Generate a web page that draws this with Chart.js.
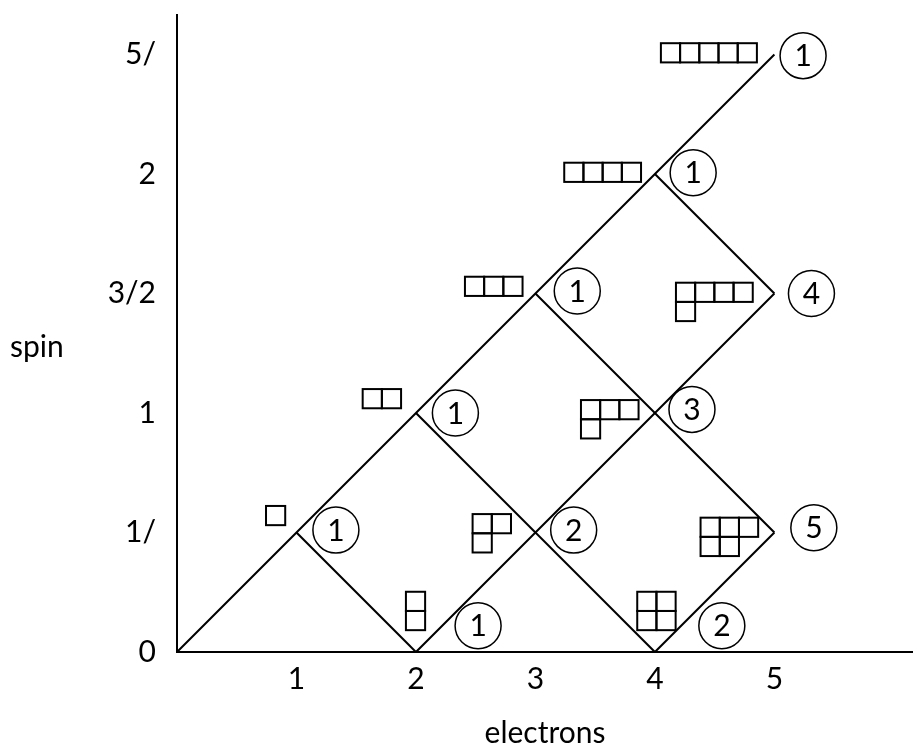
<!DOCTYPE html>
<html>
<head>
<meta charset="utf-8">
<script src="https://cdn.jsdelivr.net/npm/chart.js@4.4.1/dist/chart.umd.min.js"></script>
<style>
  html, body { margin: 0; padding: 0; background: #fff; }
  canvas { display: block; }
</style>
</head>
<body>
<canvas id="branching" width="913" height="748"></canvas>
<script>
// tick labels as printed in the figure (the "2" of 1/2 and 5/2 is cut off there)
const electronTicks = [1, 2, 3, 4, 5];
const electronTickLabels = ['1', '2', '3', '4', '5'];
const spinTicks = [0, 0.5, 1, 1.5, 2, 2.5];
const spinTickLabels = ['0', '1/', '1', '3/2', '2', '5/'];

// branches of the diagram, each one a run of (electrons, spin) nodes
const branchElectrons = [
  [0, 1, 2, 3, 4, 5],
  [1, 2],
  [2, 3, 4],
  [3, 4, 5],
  [4, 5],
  [2, 3, 4, 5],
  [4, 5]
];
const branchSpin = [
  [0, 0.5, 1, 1.5, 2, 2.5],
  [0.5, 0],
  [1, 0.5, 0],
  [1.5, 1, 0.5],
  [2, 1.5],
  [0, 0.5, 1, 1.5],
  [0, 0.5]
];

// number of states at each node, written in a circle beside it
const countValues = [1, 1, 1, 2, 1, 2, 3, 1, 5, 4, 1];
const countElectrons = [1.33, 2.52, 2.33, 3.32, 3.35, 4.56, 4.31, 4.32, 5.33, 5.31, 5.24];
const countSpin = [0.51, 0.11, 1.0, 0.51, 1.51, 0.11, 1.015, 2.005, 0.52, 1.5, 2.495];

// Young tableaux: row lengths and where the top-left corner sits
const tableauRows = [[1], [2], [1, 1], [3], [2, 1], [4], [3, 1], [2, 2], [5], [4, 1], [3, 2]];
const tableauElectrons = [0.745, 1.554, 1.916, 2.41, 2.474, 3.241, 3.381, 3.852, 4.05, 4.176, 4.382];
const tableauSpin = [0.611, 1.1, 0.252, 1.57, 0.577, 2.047, 1.054, 0.252, 2.547, 1.545, 0.562];

const BOX = 19.2;
Chart.defaults.font.family = 'Lato';
Chart.defaults.color = '#000';

// tableaux boxes, the numbers in the circles and the horizontal "spin" label
const extras = {
  id: 'extras',
  afterDatasetsDraw(chart) {
    const { ctx, scales: { x, y } } = chart;
    ctx.save();
    ctx.strokeStyle = '#000';
    ctx.lineWidth = 2;
    tableauRows.forEach((rows, i) => {
      const left = x.getPixelForValue(tableauElectrons[i]);
      const top = y.getPixelForValue(tableauSpin[i]);
      rows.forEach((len, r) => {
        for (let c = 0; c < len; c++) {
          ctx.strokeRect(left + c * BOX, top + r * BOX, BOX, BOX);
        }
      });
    });
    ctx.fillStyle = '#000';
    ctx.font = '30px Lato';
    ctx.textAlign = 'center';
    ctx.textBaseline = 'middle';
    countValues.forEach((v, i) => {
      ctx.fillText(String(v), x.getPixelForValue(countElectrons[i]), y.getPixelForValue(countSpin[i]) + 1);
    });
    ctx.textAlign = 'left';
    ctx.textBaseline = 'alphabetic';
    ctx.fillText('spin', 10, 357);
    ctx.restore();
  }
};

// no extra room for end labels, the axes sit where the figure has them
const noPadding = s => {
  s.paddingTop = 0;
  s.paddingBottom = 0;
  s.paddingLeft = 0;
  s.paddingRight = 0;
};

const datasets = branchElectrons.map((xs, i) => ({
  data: xs.map((e, k) => ({ x: e, y: branchSpin[i][k] })),
  showLine: true,
  borderColor: '#000',
  borderWidth: 2,
  pointRadius: 0,
  fill: false
}));
datasets.push({
  data: countElectrons.map((e, i) => ({ x: e, y: countSpin[i] })),
  showLine: false,
  pointStyle: 'circle',
  pointRadius: 23,
  borderColor: '#000',
  borderWidth: 1.5,
  backgroundColor: 'rgba(0,0,0,0)'
});

new Chart(document.getElementById('branching'), {
  type: 'scatter',
  data: { datasets },
  options: {
    responsive: false,
    animation: false,
    clip: false,
    layout: { autoPadding: false, padding: { top: 15, left: 0, right: 0, bottom: 0 } },
    plugins: { legend: { display: false }, tooltip: { enabled: false } },
    scales: {
      x: {
        type: 'linear',
        min: 0,
        max: 6.16,
        grid: { display: false, drawTicks: false },
        border: { color: '#000', width: 2 },
        afterBuildTicks: s => { s.ticks = electronTicks.map(v => ({ value: v })); },
        afterFit: s => { s.height = 96; noPadding(s); },
        ticks: {
          autoSkip: false,
          maxRotation: 0,
          padding: 9,
          font: { size: 30 },
          callback: (v, i) => electronTickLabels[i]
        },
        title: {
          display: true,
          text: 'electrons',
          font: { size: 30, lineHeight: 1 },
          padding: { top: 0, bottom: 0 }
        }
      },
      y: {
        type: 'linear',
        min: 0,
        max: 2.665,
        grid: { display: false, drawTicks: false },
        border: { color: '#000', width: 2 },
        afterBuildTicks: s => { s.ticks = spinTicks.map(v => ({ value: v })); },
        afterFit: s => { s.width = 177; noPadding(s); },
        ticks: {
          autoSkip: false,
          padding: 21,
          font: { size: 30 },
          callback: (v, i) => spinTickLabels[i]
        }
      }
    }
  },
  plugins: [extras]
});
</script>
</body>
</html>
